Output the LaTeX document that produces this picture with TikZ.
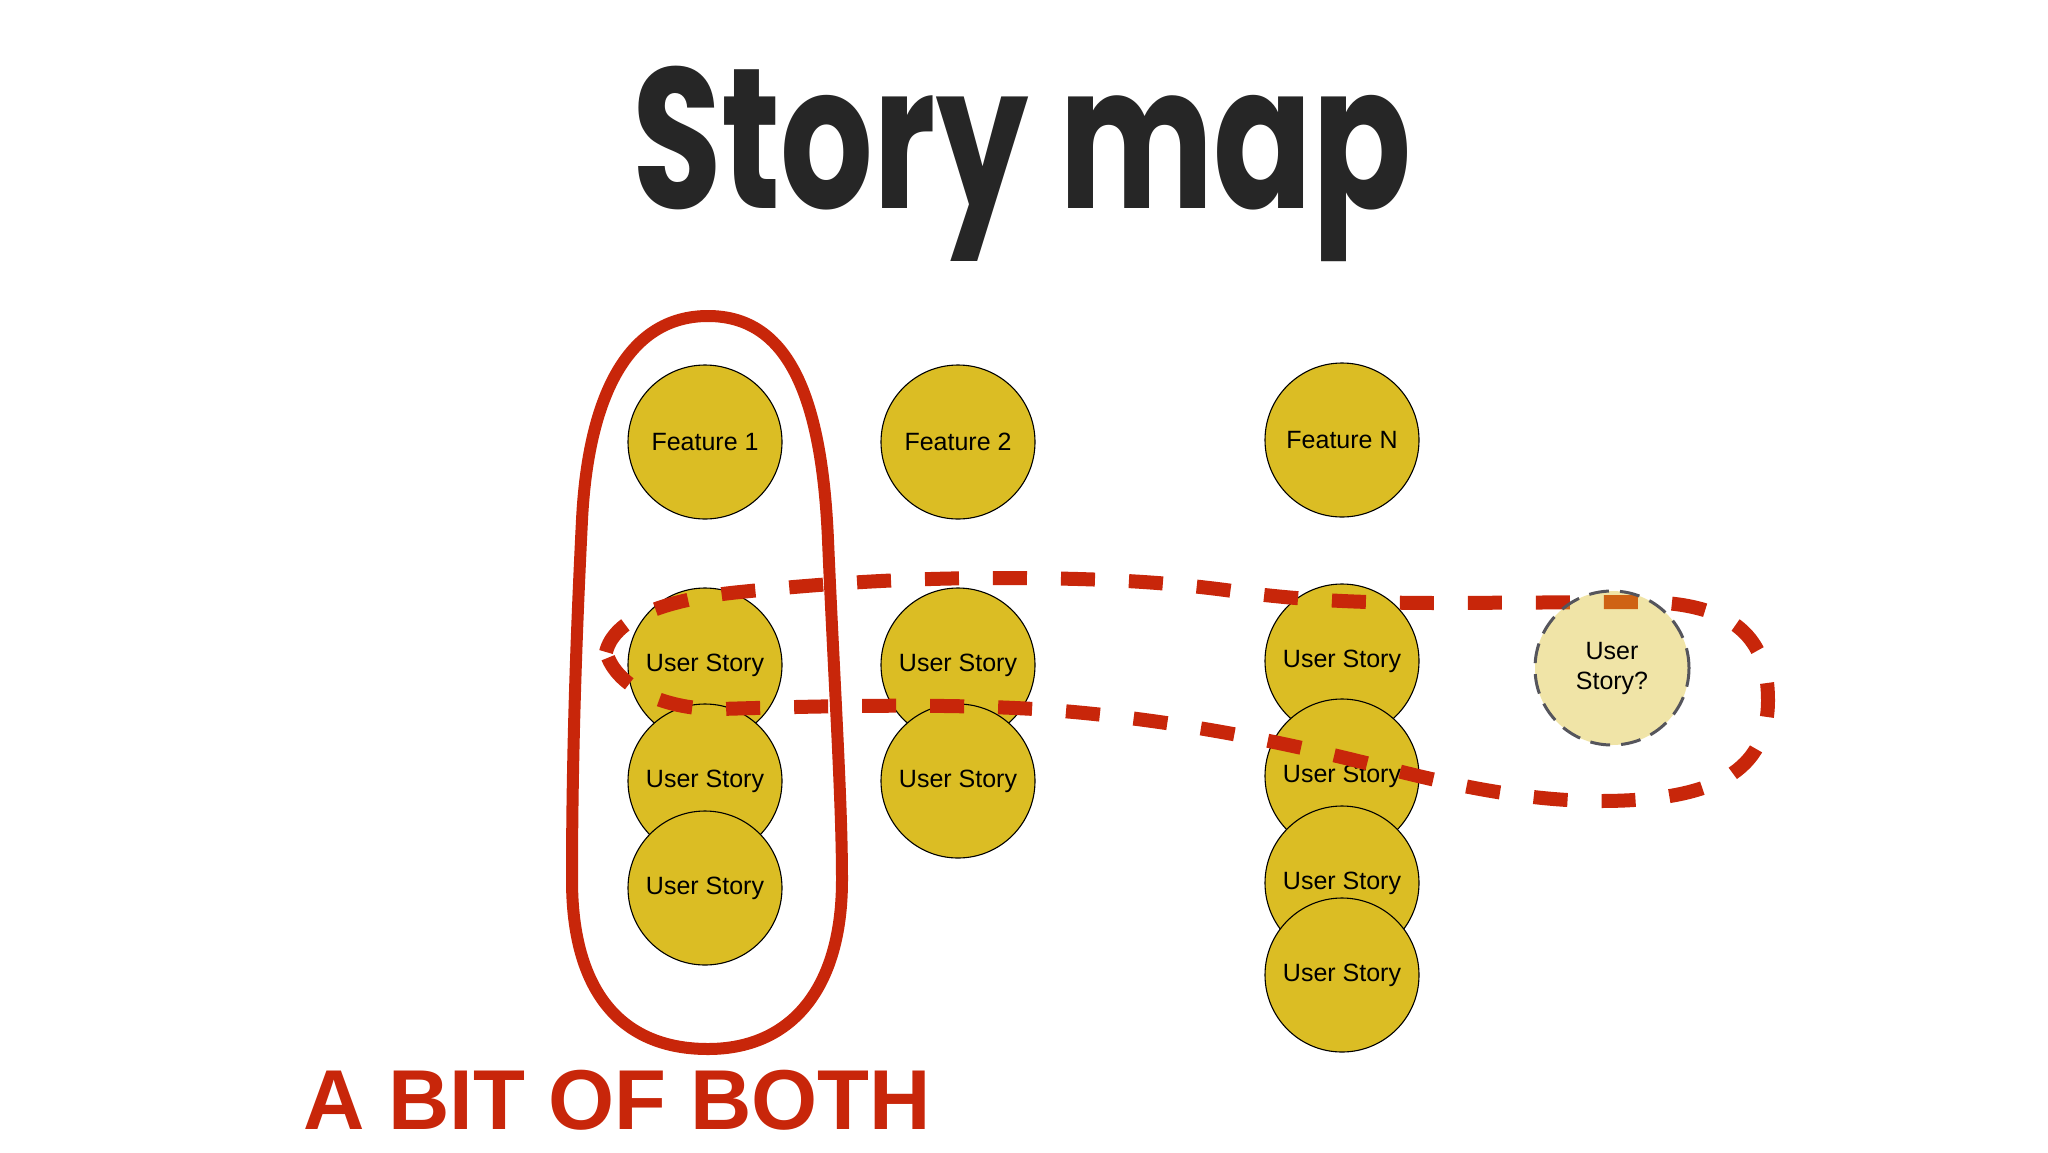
\documentclass[tikz,border=0pt]{standalone}
\usepackage{fontspec}
\setmainfont{Liberation Sans}
\newfontfamily\titlefont{Poppins}
\definecolor{storyyellow}{RGB}{219,189,36}
\definecolor{loopred}{RGB}{200,38,10}
\definecolor{titlegray}{RGB}{38,38,38}
\definecolor{dashgray}{RGB}{85,85,92}
\begin{document}
\begin{tikzpicture}[x=1pt,y=-1pt,
  card/.style={circle, draw=black, line width=1.1pt, fill=storyyellow,
    minimum size=154pt, inner sep=0pt, text=black, align=center,
    font=\fontsize{25}{30}\selectfont},
  maybecard/.style={card, fill opacity=0.4, text opacity=1, draw opacity=1,
    draw=dashgray, line width=3pt, dash pattern=on 20pt off 11pt},
  solidloop/.style={draw=loopred, line width=12pt},
  dashloop/.style={draw=loopred, line width=14pt, dash pattern=on 34pt off 34pt}]
\useasboundingbox[fill=white] (0,0) rectangle (2048,1152);

% title
\node[anchor=base, inner sep=0pt, text=titlegray] (title) at (1022,208)
  {\resizebox{780pt}{\height}{\titlefont\bfseries\fontsize{200}{200}\selectfont Story map}};

% column 1
\node[card] (f1) at (705,442) {Feature 1};
\node[card] (s11) at (705,665) {User Story};
\node[card] (s12) at (705,781) {User Story};
\node[card] (s13) at (705,888) {User Story};
% column 2
\node[card] (f2) at (958,442) {Feature 2};
\node[card] (s21) at (958,665) {User Story};
\node[card] (s22) at (958,781) {User Story};
% column N
\node[card] (fn) at (1342,440) {Feature N};
\node[card] (sn1) at (1342,661) {User Story};
\node[card] (sn2) at (1342,776) {User Story};
\node[card] (sn3) at (1342,883) {User Story};
\node[card] (sn4) at (1342,975) {User Story};

% solid loop around column 1
\draw[solidloop] (708,316) .. controls (790,316) and (822,400) .. (828,540)
  .. controls (834,680) and (842,800) .. (842,880)
  .. controls (842,990) and (790,1049) .. (708,1049)
  .. controls (620,1049) and (572,990) .. (572,880)
  .. controls (572,760) and (576,640) .. (582,520)
  .. controls (588,400) and (626,316) .. (708,316) -- cycle;

% dashed loop across the first story row
\draw[dashloop] (606,652)
  .. controls (614,620) and (660,600) .. (740,592)
  .. controls (820,584) and (900,578) .. (1000,578)
  .. controls (1100,578) and (1170,582) .. (1240,592)
  .. controls (1300,600) and (1360,603) .. (1440,603)
  -- (1640,602)
  .. controls (1736,602) and (1768,640) .. (1768,700)
  .. controls (1768,770) and (1716,801) .. (1600,801)
  .. controls (1520,801) and (1440,782) .. (1370,764)
  .. controls (1290,744) and (1180,720) .. (1050,710)
  .. controls (950,703) and (820,706) .. (720,709)
  .. controls (670,710) and (617,690) .. (606,652) -- cycle;

% possible story
\node[maybecard] (sq) at (1612,668) {User\\Story?};

% caption
\node[anchor=base west, inner sep=0pt, text=loopred,
  font=\bfseries\fontsize{85}{85}\selectfont] (caption) at (303,1129) {A BIT OF BOTH};
\end{tikzpicture}
\end{document}
